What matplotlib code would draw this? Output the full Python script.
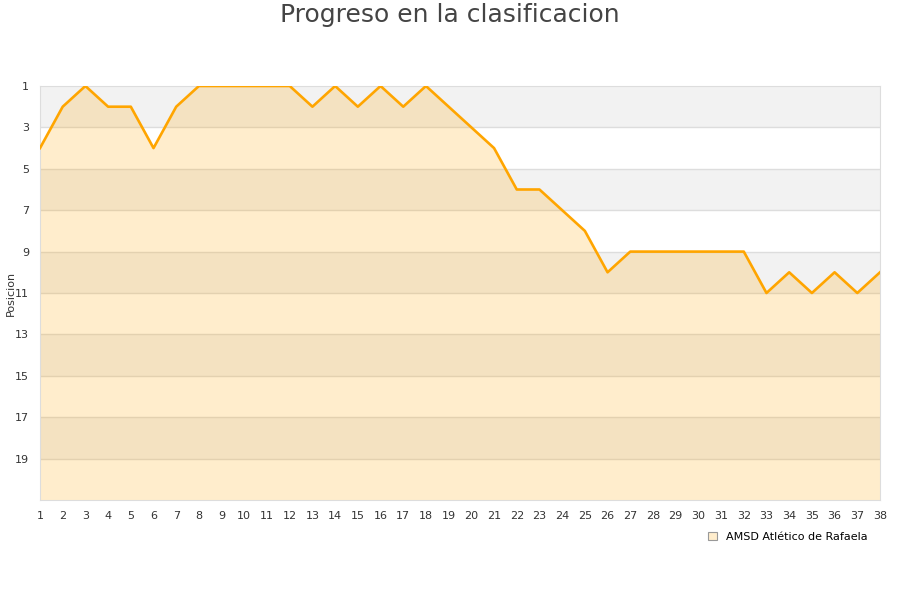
import numpy as np
import matplotlib
matplotlib.use("Agg")
import matplotlib.pyplot as plt
from matplotlib.patches import Patch

rounds = list(range(1, 39))
positions = [4, 2, 1, 2, 2, 4, 2, 1, 1, 1, 1, 1, 2, 1, 2, 1, 2, 1, 2, 3,
             4, 6, 6, 7, 8, 10, 9, 9, 9, 9, 9, 9, 11, 10, 11, 10, 11, 10]
team = "AMSD Atlético de Rafaela"
y_ticks = [1, 3, 5, 7, 9, 11, 13, 15, 17, 19]

fig = plt.figure(figsize=(9, 6), dpi=100)
ax = fig.add_axes([40 / 900, 1 - 500 / 600, 840 / 900, 414 / 600])

# alternating bands
for y0 in range(1, 21, 4):
    ax.axhspan(y0, y0 + 2, color="#f2f2f2", zorder=0, lw=0)
for y in range(3, 21, 2):
    ax.axhline(y, color="#dddddd", lw=1, zorder=1)

ax.fill_between(rounds, positions, 21, color="#FFA500", alpha=0.2, lw=0, zorder=2)
ax.plot(rounds, positions, color="#FFA500", lw=1.9, zorder=3)

ax.set_xlim(1, 38)
ax.set_ylim(21, 1)
ax.set_xticks(rounds)
ax.set_yticks(y_ticks)
ax.tick_params(axis="both", length=0, labelsize=8, colors="#333333")
ax.tick_params(axis="x", pad=8)
ax.tick_params(axis="y", pad=8)
for s in ax.spines.values():
    s.set_color("#dddddd")
ax.set_ylabel("Posicion", fontsize=8, color="#333333")
ax.yaxis.set_label_coords(-24 / 840, 0.5)

fig.text(0.5, 0.995, "Progreso en la clasificacion", ha="center", va="top",
         fontsize=18, color="#444444")

handle = Patch(facecolor="#FFEDCC", edgecolor="#999999", lw=0.8)
fig.legend([handle], [team], loc="center right", bbox_to_anchor=(0.975, 0.105),
           frameon=False, fontsize=8, handlelength=0.8, handleheight=0.8,
           handletextpad=0.8)

fig.savefig("out.png", dpi=100)
